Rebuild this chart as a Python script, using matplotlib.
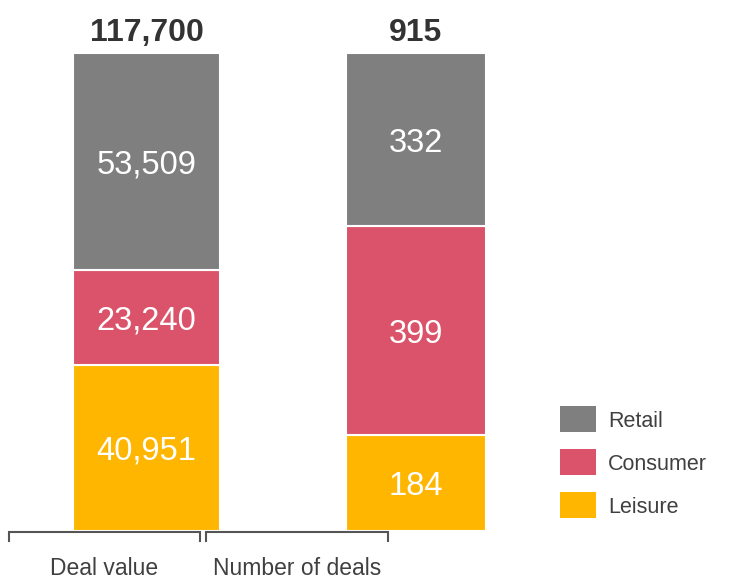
import matplotlib
matplotlib.use("Agg")
import matplotlib.pyplot as plt
from matplotlib.patches import Rectangle
import numpy as np

plt.rcParams['font.family'] = ['Liberation Sans', 'DejaVu Sans']

categories = ["Deal value", "Number of deals"]
segments = ["Leisure", "Consumer", "Retail"]
leisure = [40951, 184]
consumer = [23240, 399]
retail = [53509, 332]
totals = [117700, 915]
colors = {"Leisure": "#ffb600", "Consumer": "#db536a", "Retail": "#7f7f7f"}
legend_order = ["Retail", "Consumer", "Leisure"]

W, H = 732, 583
fig = plt.figure(figsize=(W / 100, H / 100), dpi=100)
ax = fig.add_axes([0, (H - 531) / H, 1, 478 / H])
ax.set_xlim(0, W)
ax.set_ylim(0, 1)
ax.axis('off')

bar_x = [146.5, 416]
bar_w = [147, 140]
label_x = [104.5, 297]
brackets = [(9, 200), (206, 388)]

series = {"Leisure": leisure, "Consumer": consumer, "Retail": retail}
tot = np.array(leisure) + np.array(consumer) + np.array(retail)
bottom = np.zeros(2)
for seg in segments:
    vals = np.array(series[seg], dtype=float)
    frac = vals / tot
    ax.bar(bar_x, frac, width=bar_w, bottom=bottom, color=colors[seg],
           edgecolor='white', linewidth=1.5)
    for i in range(2):
        ax.text(bar_x[i], bottom[i] + frac[i] / 2, f"{int(vals[i]):,}",
                ha='center', va='center_baseline', color='white', fontsize=23.5)
    bottom += frac

for i in range(2):
    ax.annotate(f"{totals[i]:,}", (bar_x[i], 1.0), xytext=(0, 17),
                textcoords='offset points', ha='center', va='center_baseline',
                fontsize=23, fontweight='bold', color='#333333')
    x0, x1 = brackets[i]
    ax.plot([x0, x0, x1, x1], [-0.021, -0.002, -0.002, -0.021], color='#555555',
            linewidth=1.5, clip_on=False, solid_joinstyle='miter')
    ax.text(label_x[i], -0.093, categories[i], ha='center', va='baseline',
            fontsize=16.5, color='#404040')

# legend drawn manually in pixel layout
for k, name in enumerate(legend_order):
    yc = 419 + k * 43
    fig.add_artist(Rectangle((560 / W, 1 - (yc + 13) / H), 36 / W, 26 / H,
                             transform=fig.transFigure, facecolor=colors[name],
                             edgecolor='none'))
    fig.text(608 / W, 1 - yc / H, name, ha='left', va='center_baseline',
             fontsize=15.5, color='#404040')

fig.savefig("out.png", dpi=100)
